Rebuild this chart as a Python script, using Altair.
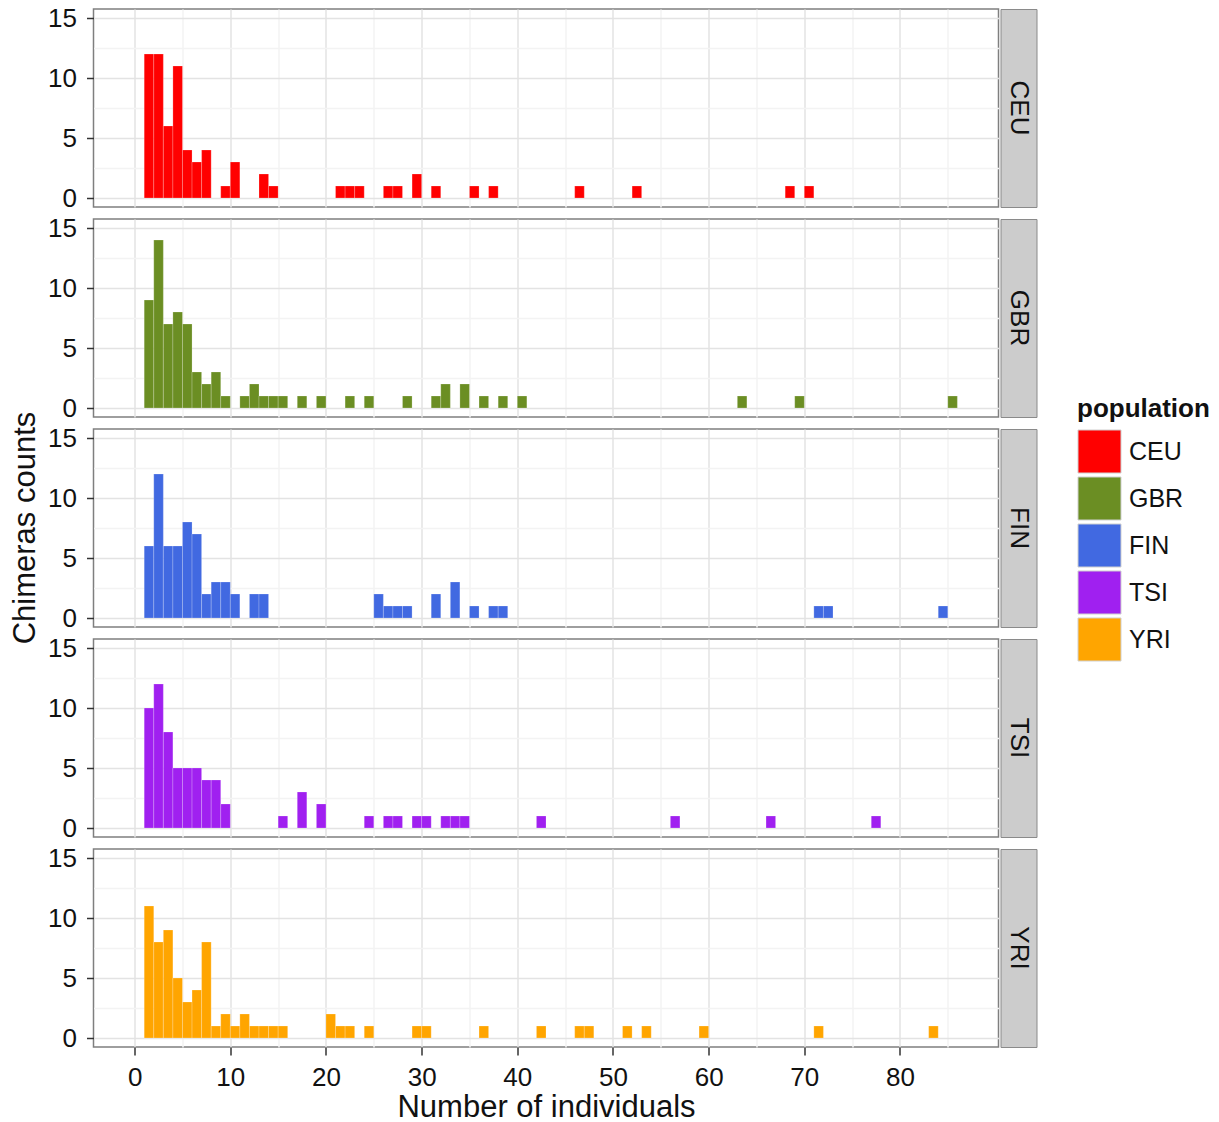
import altair as alt
import pandas as pd

FONT = "Liberation Sans"

populations = ["CEU", "GBR", "FIN", "TSI", "YRI"]
colors = ["#FF0000", "#6B8E23", "#4169E1", "#A020F0", "#FFA500"]

ceu_bins = [1, 2, 3, 4, 5, 6, 7, 9, 10, 13, 14, 21, 22, 23, 26, 27, 29, 31, 35, 37, 46, 52, 68, 70]
ceu_counts = [12, 12, 6, 11, 4, 3, 4, 1, 3, 2, 1, 1, 1, 1, 1, 1, 2, 1, 1, 1, 1, 1, 1, 1]
gbr_bins = [1, 2, 3, 4, 5, 6, 7, 8, 9, 11, 12, 13, 14, 15, 17, 19, 22, 24, 28, 31, 32, 34, 36, 38, 40, 63, 69, 85]
gbr_counts = [9, 14, 7, 8, 7, 3, 2, 3, 1, 1, 2, 1, 1, 1, 1, 1, 1, 1, 1, 1, 2, 2, 1, 1, 1, 1, 1, 1]
fin_bins = [1, 2, 3, 4, 5, 6, 7, 8, 9, 10, 12, 13, 25, 26, 27, 28, 31, 33, 35, 37, 38, 71, 72, 84]
fin_counts = [6, 12, 6, 6, 8, 7, 2, 3, 3, 2, 2, 2, 2, 1, 1, 1, 2, 3, 1, 1, 1, 1, 1, 1]
tsi_bins = [1, 2, 3, 4, 5, 6, 7, 8, 9, 15, 17, 19, 24, 26, 27, 29, 30, 32, 33, 34, 42, 56, 66, 77]
tsi_counts = [10, 12, 8, 5, 5, 5, 4, 4, 2, 1, 3, 2, 1, 1, 1, 1, 1, 1, 1, 1, 1, 1, 1, 1]
yri_bins = [1, 2, 3, 4, 5, 6, 7, 8, 9, 10, 11, 12, 13, 14, 15, 20, 21, 22, 24, 29, 30, 36, 42, 46, 47, 51, 53, 59, 71, 83]
yri_counts = [11, 8, 9, 5, 3, 4, 8, 1, 2, 1, 2, 1, 1, 1, 1, 2, 1, 1, 1, 1, 1, 1, 1, 1, 1, 1, 1, 1, 1, 1]

series = {
    "CEU": (ceu_bins, ceu_counts),
    "GBR": (gbr_bins, gbr_counts),
    "FIN": (fin_bins, fin_counts),
    "TSI": (tsi_bins, tsi_counts),
    "YRI": (yri_bins, yri_counts),
}

rows = []
for pop, (b, c) in series.items():
    for xi, ci in zip(b, c):
        rows.append({"population": pop, "start": xi, "end": xi + 1, "count": ci})
df = pd.DataFrame(rows)

PW, PH, SW = 905, 198, 36
GAP = 2
STACK_H = 5 * PH + 4 * 12
x_major = {"condition": {"test": "datum.value % 10 === 0", "value": "#E3E3E3"}, "value": "#F3F3F3"}
y_major = {"condition": {"test": "datum.value % 5 === 0", "value": "#E3E3E3"}, "value": "#F3F3F3"}
x_tickop = {"condition": {"test": "datum.value % 10 === 0", "value": 1}, "value": 0}
y_tickop = {"condition": {"test": "datum.value % 5 === 0", "value": 1}, "value": 0}

color_scale = alt.Scale(domain=populations, range=colors)


def make_panel(pop, bottom):
    d = df[df.population == pop]
    if bottom:
        xaxis = alt.Axis(values=list(range(0, 90, 5)), format="d",
                         labelExpr="datum.value % 10 === 0 ? datum.label : ''",
                         grid=True, gridColor=x_major, gridWidth=1.5,
                         domain=False, ticks=True, tickSize=8, tickWidth=1.5,
                         tickColor="#333333", tickOpacity=x_tickop,
                         labelFontSize=26, labelColor="#111111", labelPadding=9,
                         title="Number of individuals", titleFontSize=31,
                         titleFontWeight="normal", titleColor="#111111", titlePadding=2)
    else:
        xaxis = alt.Axis(values=list(range(0, 90, 5)), grid=True, gridColor=x_major,
                         gridWidth=1.5, domain=False, ticks=False, labels=False, title=None)
    yaxis = alt.Axis(values=[0, 2.5, 5, 7.5, 10, 12.5, 15], format="d",
                     labelExpr="datum.value % 5 === 0 ? datum.label : ''",
                     grid=True, gridColor=y_major, gridWidth=1.5, domain=False,
                     tickSize=7, tickWidth=1.5, tickColor="#333333", tickOpacity=y_tickop,
                     labelFontSize=26, labelColor="#111111", labelPadding=10, title=None)
    return alt.Chart(d).mark_rect(stroke="white", strokeWidth=0.6, strokeOpacity=0.35).encode(
        x=alt.X("start:Q", scale=alt.Scale(domain=[-4.3, 90.3], nice=False, zero=False), axis=xaxis),
        x2="end:Q",
        y=alt.Y("count:Q", scale=alt.Scale(domain=[-0.75, 15.75], nice=False, zero=False), axis=yaxis),
        y2=alt.datum(0),
        color=alt.Color("population:N", scale=color_scale,
                        legend=alt.Legend(title="population")),
    ).properties(width=PW, height=PH,
                 view=alt.ViewBackground(fill="#FFFFFF", stroke="#7F7F7F", strokeWidth=1.5))


def make_strip(pop):
    return alt.Chart(pd.DataFrame({"population": [pop]})).mark_text(
        angle=90, fontSize=26, font=FONT, color="#111111", baseline="middle", align="center"
    ).encode(
        text="population:N", x=alt.value(SW / 2), y=alt.value(PH / 2)
    ).properties(width=SW, height=PH,
                 view=alt.ViewBackground(fill="#CCCCCC", stroke="#8A8A8A", strokeWidth=1))


ytitle = alt.Chart(pd.DataFrame({"t": ["Chimeras counts"]})).mark_text(
    angle=270, fontSize=31, font=FONT, color="#111111", baseline="middle", align="center"
).encode(
    text="t:N", x=alt.value(26), y=alt.value(STACK_H / 2)
).properties(width=40, height=STACK_H,
             view=alt.ViewBackground(fillOpacity=0, strokeOpacity=0))

row_charts = []
for i, pop in enumerate(populations):
    row_charts.append(alt.hconcat(make_panel(pop, i == 4), make_strip(pop), spacing=0))

stack = alt.vconcat(*row_charts, spacing=GAP)

chart = alt.hconcat(ytitle, stack, spacing=5.5).properties(
    padding={"left": 0, "top": 4, "right": 0, "bottom": 0},
    background="#FFFFFF",
).configure(font=FONT).configure_legend(
    orient="none", legendX=1077, legendY=387, padding=0,
    titleFontSize=26, titleFontWeight="bold", titleColor="#111111", titlePadding=7,
    labelFontSize=25, labelColor="#111111", labelOffset=7,
    symbolType="square", symbolSize=1850, symbolStrokeColor="#D0D0D0",
    symbolStrokeWidth=1, symbolOpacity=1, rowPadding=-10,
)

chart.save("out.html", embed_options={"renderer": "svg", "actions": False})
